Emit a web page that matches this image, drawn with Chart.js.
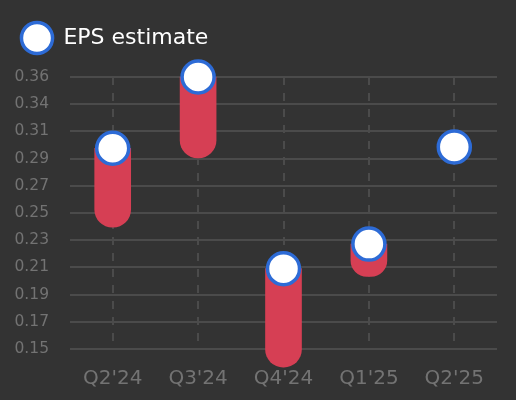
<!DOCTYPE html>
<html>
<head>
<meta charset="utf-8">
<script src="https://cdn.jsdelivr.net/npm/chart.js@4/dist/chart.umd.min.js"></script>
<style>
  html, body { margin: 0; padding: 0; background: #333333; }
  #wrap { width: 516px; height: 400px; }
</style>
</head>
<body>
<div id="wrap"><canvas id="epsChart" width="516" height="400"></canvas></div>
<script>
// data
const categories = ["Q2'24", "Q3'24", "Q4'24", "Q1'25", "Q2'25"];
const epsEstimate = [0.305, 0.36, 0.212, 0.231, 0.306];
const rangeLow = [0.244, 0.2975, 0.136, 0.206, null];
const yTickValues = [0.15, 0.171, 0.192, 0.213, 0.234, 0.255, 0.276, 0.297, 0.318, 0.339, 0.36];
const yTickLabels = ['0.15', '0.17', '0.19', '0.21', '0.23', '0.25', '0.27', '0.29', '0.31', '0.34', '0.36'];

Chart.defaults.font.family = "'DejaVu Sans', sans-serif";

const rangeData = categories.map((c, i) => rangeLow[i] == null ? null : [rangeLow[i], epsEstimate[i]]);

// more room under the legend, and nudge it right
const legendGap = {
  id: 'legendGap',
  beforeInit(chart) {
    const legend = chart.legend;
    const fit = legend.fit;
    legend.fit = function() {
      fit.call(this);
      this.height += 18;
    };
    const draw = legend.draw;
    legend.draw = function() {
      this.ctx.save();
      this.ctx.translate(10, 0);
      draw.call(this);
      this.ctx.restore();
    };
  }
};

new Chart(document.getElementById('epsChart').getContext('2d'), {
  data: {
    labels: categories,
    datasets: [{
      type: 'line',
      label: 'EPS estimate',
      data: epsEstimate,
      showLine: false,
      pointStyle: 'circle',
      pointRadius: 16,
      pointHoverRadius: 16,
      pointBorderWidth: 3.5,
      pointBackgroundColor: '#ffffff',
      pointBorderColor: '#2d6bd6',
      backgroundColor: '#ffffff',
      borderColor: '#2d6bd6',
      clip: false,
      order: 0
    }, {
      type: 'bar',
      label: 'range',
      data: rangeData,
      backgroundColor: '#d63f54',
      barThickness: 36,
      borderSkipped: false,
      borderRadius: { topLeft: 0, topRight: 0, bottomLeft: 18, bottomRight: 18 },
      clip: false,
      order: 1
    }]
  },
  options: {
    responsive: false,
    animation: false,
    layout: { autoPadding: false, padding: { left: 6, right: 19, top: 17, bottom: 10 } },
    plugins: {
      tooltip: { enabled: false },
      legend: {
        align: 'start',
        labels: {
          usePointStyle: true,
          color: '#ffffff',
          font: { size: 22 },
          padding: 10,
          filter: item => item.datasetIndex === 0,
          generateLabels: chart => {
            const items = Chart.defaults.plugins.legend.labels.generateLabels(chart);
            items.forEach(it => { it.text = '\u2009' + it.text; });
            return items;
          }
        }
      }
    },
    scales: {
      x: {
        offset: true,
        grid: {
          offset: false,
          drawTicks: false,
          color: '#4b4b4b',
          lineWidth: 2
        },
        border: { display: false, dash: [8, 8] },
        ticks: { color: '#737373', font: { size: 20 }, padding: 18 },
        afterFit: scale => { scale.height = 41; }
      },
      y: {
        min: 0.15,
        max: 0.36,
        border: { display: false },
        grid: { drawTicks: false, color: '#4b4b4b', lineWidth: 2 },
        afterBuildTicks: scale => {
          scale.ticks = yTickValues.map(v => ({ value: v }));
        },
        afterFit: scale => { scale.width = 64; },
        ticks: {
          color: '#737373',
          font: { size: 15.5 },
          padding: 21,
          callback: (value, index) => yTickLabels[index]
        }
      }
    }
  },
  plugins: [legendGap]
});
</script>
</body>
</html>
